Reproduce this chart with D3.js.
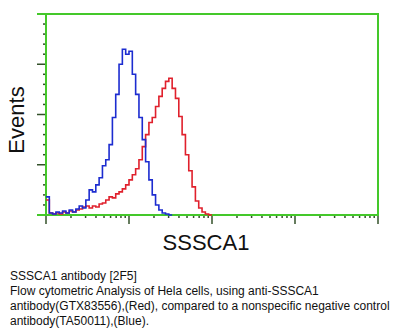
<!DOCTYPE html>
<html>
<head>
<meta charset="utf-8">
<script src="https://cdn.jsdelivr.net/npm/d3@7"></script>
<style>
  html, body { margin: 0; padding: 0; background: #fff; }
  svg { display: block; font-family: Arial, "Liberation Sans", sans-serif; }
</style>
</head>
<body>
<svg id="chart" width="400" height="336"></svg>
<script>
// Histogram bins: each bin spans 0.04 decades of fluorescence, starting at 10^0.
const binStart = 1;
const decadesPerBin = 0.04;

// Event counts per bin, anti-SSSCA1 antibody (red)
const redCounts = [
  15, 2, 1, 2, 1, 3, 2, 4, 3, 5, 6, 8,
  9, 7, 9, 8, 11, 12, 15, 18, 17, 21, 23, 26,
  30, 35, 40, 46, 55, 68, 80, 92, 97, 108, 118, 126,
  133, 136, 126, 116, 98, 80, 60, 44, 28, 14, 7, 3, 1, 0
];

// Event counts per bin, nonspecific negative control antibody (blue)
const blueCounts = [
  18, 2, 1, 3, 2, 4, 2, 5, 3, 6, 9, 7,
  15, 25, 23, 30, 37, 49, 55, 70, 97, 120, 150, 165,
  160, 163, 140, 120, 97, 75, 53, 35, 20, 10, 5, 2, 1, 0
];

const xTickDecades = [1, 10, 100, 1000, 10000];
const yMajorTicks = [0, 50, 100, 150, 200];
const xLabel = "SSSCA1";
const yLabel = "Events";
const captionLines = [
  "SSSCA1 antibody [2F5]",
  "Flow cytometric Analysis of Hela cells, using anti-SSSCA1",
  "antibody(GTX83556),(Red), compared to a nonspecific negative control",
  "antibody(TA50011),(Blue)."
];

const svg = d3.select("#chart");
const frameColor = "#44c82a";
const tickColor = "#33502a";

const x = d3.scaleLog().domain([1, 10000]).range([46, 378]);
const y = d3.scaleLinear().domain([0, 200]).range([215, 14]);

// Step outline for a histogram: each count held flat across its bin.
function stepPoints(counts) {
  const pts = counts.map((c, i) => [binStart * Math.pow(10, i * decadesPerBin), c]);
  pts.push([binStart * Math.pow(10, counts.length * decadesPerBin), 0]);
  return pts;
}
const line = d3.line()
  .x(d => x(d[0]))
  .y(d => y(d[1]))
  .curve(d3.curveStepAfter);

// Y axis ticks (left): minor every 10 events, long ticks every 50
const yMinor = d3.range(0, 201, 10);
svg.append("g").selectAll("line").data(yMinor).join("line")
  .attr("x1", d => yMajorTicks.includes(d) ? 37 : 43)
  .attr("x2", 46)
  .attr("y1", d => y(d)).attr("y2", d => y(d))
  .attr("stroke", d => (d === 0 || d === 200) ? frameColor : tickColor)
  .attr("stroke-width", d => (d === 0 || d === 200) ? 2 : 1.5);

// X axis ticks (bottom): log minor ticks, long ticks at each decade
const xMinor = x.ticks();
svg.append("g").selectAll("line").data(xMinor).join("line")
  .attr("x1", d => x(d)).attr("x2", d => x(d))
  .attr("y1", 215)
  .attr("y2", d => xTickDecades.includes(d) ? 224 : 218)
  .attr("stroke", tickColor)
  .attr("stroke-width", 1.5);

// Frame
svg.append("rect")
  .attr("x", x(1)).attr("y", y(200))
  .attr("width", x(10000) - x(1)).attr("height", y(0) - y(200))
  .attr("fill", "none")
  .attr("stroke", frameColor)
  .attr("stroke-width", 2);

// Histograms
svg.append("path")
  .attr("d", line(stepPoints(redCounts)))
  .attr("fill", "none")
  .attr("stroke", "#e0202c")
  .attr("stroke-width", 1.6);

svg.append("path")
  .attr("d", line(stepPoints(blueCounts)))
  .attr("fill", "none")
  .attr("stroke", "#1c2cd0")
  .attr("stroke-width", 1.6);

// Axis titles
svg.append("text")
  .attr("transform", "translate(24,120) rotate(-90)")
  .attr("text-anchor", "middle")
  .attr("font-size", 22)
  .attr("fill", "#111")
  .text(yLabel);

svg.append("text")
  .attr("x", 206).attr("y", 250)
  .attr("text-anchor", "middle")
  .attr("font-size", 22)
  .attr("fill", "#111")
  .text(xLabel);

// Caption
svg.append("g").selectAll("text").data(captionLines).join("text")
  .attr("x", 10)
  .attr("y", (d, i) => 280 + i * 15)
  .attr("font-size", 12)
  .attr("fill", "#111")
  .text(d => d);
</script>
</body>
</html>
